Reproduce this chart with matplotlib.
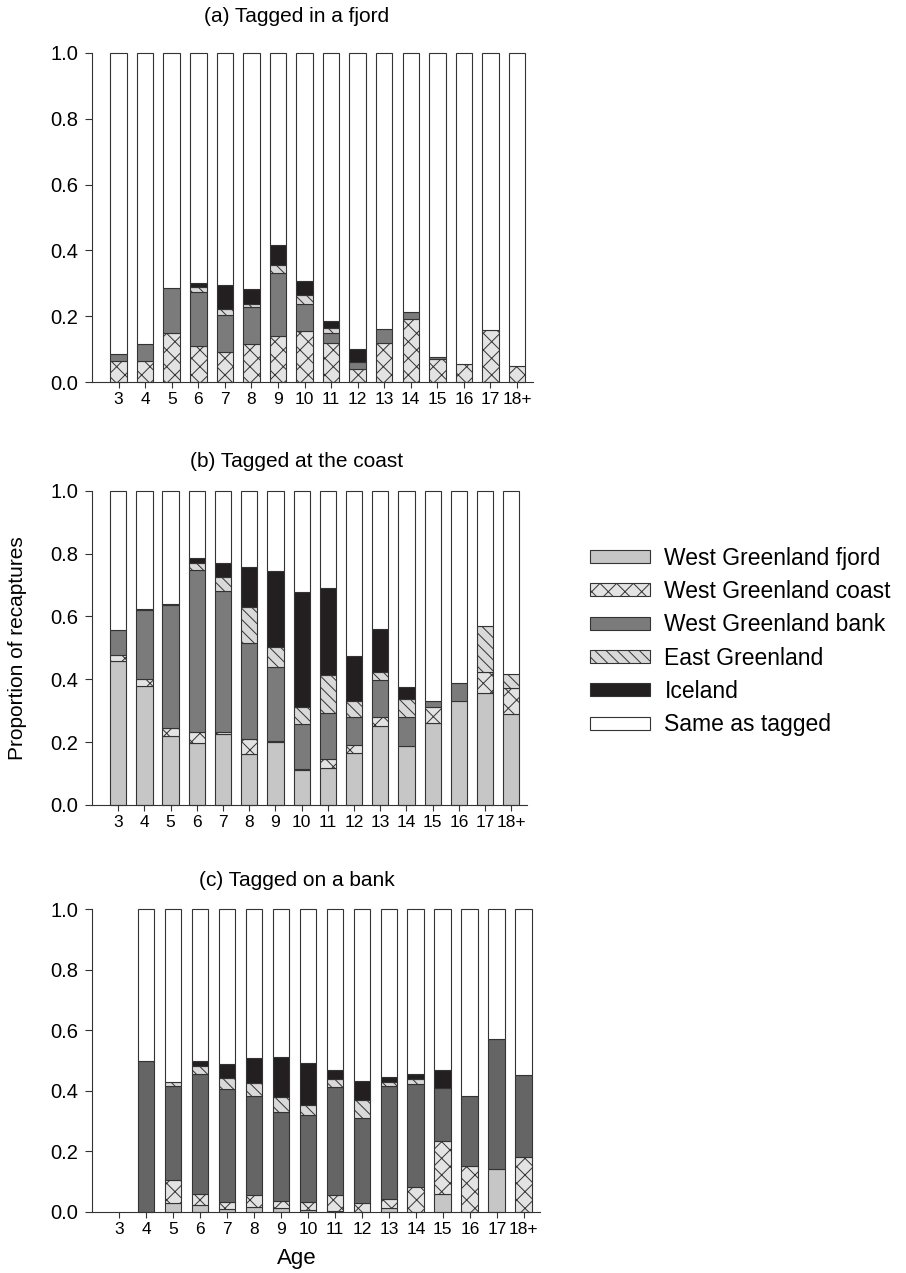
import numpy as np
import matplotlib
matplotlib.use("Agg")
import matplotlib.pyplot as plt
from matplotlib.patches import Patch

plt.rcParams["font.family"] = ["Liberation Sans", "DejaVu Sans"]
plt.rcParams["hatch.linewidth"] = 0.7

ages = ["3", "4", "5", "6", "7", "8", "9", "10", "11", "12", "13", "14", "15", "16", "17", "18+"]
areas = ["West Greenland fjord", "West Greenland coast", "West Greenland bank",
         "East Greenland", "Iceland", "Same as tagged"]

# (a) tagged in a fjord - proportion recaptured in each area
a_fjord = [0, 0, 0, 0, 0, 0, 0, 0, 0, 0, 0, 0, 0, 0, 0, 0]
a_coast = [0.065, 0.065, 0.150, 0.110, 0.090, 0.115, 0.140, 0.155, 0.120, 0.040, 0.120, 0.190, 0.070, 0.055, 0.157, 0.050]
a_bank = [0.020, 0.050, 0.137, 0.165, 0.113, 0.112, 0.192, 0.083, 0.030, 0.020, 0.040, 0.022, 0.005, 0, 0, 0]
a_east = [0, 0, 0, 0.014, 0.018, 0.011, 0.023, 0.026, 0.013, 0, 0, 0, 0, 0, 0, 0]
a_iceland = [0, 0, 0, 0.011, 0.073, 0.044, 0.060, 0.042, 0.023, 0.040, 0, 0, 0, 0, 0, 0]

# (b) tagged at the coast
b_fjord = [0.459, 0.379, 0.221, 0.198, 0.226, 0.163, 0.201, 0.111, 0.117, 0.164, 0.251, 0.188, 0.260, 0.332, 0.355, 0.288]
b_coast = [0.018, 0.021, 0.025, 0.033, 0.006, 0.046, 0.003, 0.005, 0.028, 0.026, 0.028, 0, 0.053, 0, 0.069, 0.085]
b_bank = [0.079, 0.220, 0.390, 0.517, 0.450, 0.307, 0.234, 0.142, 0.149, 0.091, 0.119, 0.093, 0.018, 0.055, 0, 0]
b_east = [0, 0, 0.002, 0.021, 0.042, 0.113, 0.065, 0.053, 0.120, 0.051, 0.026, 0.057, 0, 0, 0.145, 0.044]
b_iceland = [0, 0.004, 0, 0.016, 0.046, 0.128, 0.242, 0.367, 0.276, 0.142, 0.136, 0.037, 0, 0, 0, 0]

# (c) tagged on a bank (no recaptures at age 3)
c_fjord = [0, 0, 0.030, 0.021, 0.009, 0.017, 0.012, 0.006, 0.003, 0, 0.013, 0, 0.057, 0, 0.140, 0]
c_coast = [0, 0, 0.075, 0.037, 0.024, 0.038, 0.023, 0.027, 0.052, 0.028, 0.029, 0.083, 0.178, 0.151, 0, 0.180]
c_bank = [0, 0.498, 0.311, 0.398, 0.373, 0.326, 0.295, 0.287, 0.356, 0.282, 0.373, 0.338, 0.174, 0.232, 0.430, 0.272]
c_east = [0, 0, 0.012, 0.026, 0.036, 0.045, 0.048, 0.032, 0.029, 0.059, 0.014, 0.017, 0, 0, 0, 0]
c_iceland = [0, 0, 0, 0.016, 0.045, 0.082, 0.134, 0.140, 0.029, 0.063, 0.016, 0.018, 0.060, 0, 0, 0]
c_no_data = ["3"]

styles = [
    dict(facecolor="#c6c6c6"),
    dict(facecolor="#e3e3e3", hatch="xx"),
    dict(facecolor="#7b7b7b"),
    dict(facecolor="#d9d9d9", hatch="\\\\\\"),
    dict(facecolor="#231f20"),
    dict(facecolor="white"),
]


def draw_panel(ax, parts, title, pad, bank_color, no_data=()):
    x = np.arange(len(ages))
    parts = [np.array(p, dtype=float) for p in parts]
    same = 1 - sum(parts)
    same[[ages.index(a) for a in no_data]] = 0
    parts.append(same)
    bottom = np.zeros(len(ages))
    for i, vals in enumerate(parts):
        st = dict(styles[i])
        if i == 2:
            st["facecolor"] = bank_color
        # no outline for empty segments
        lw = np.where(vals > 0, 0.8, 0)
        ax.bar(x, vals, 0.62, bottom=bottom, edgecolor="#333333",
               linewidth=lw, clip_on=False, **st)
        bottom += vals

    ax.set_xlim(-1, 15.6)
    ax.set_ylim(0, 1)
    ax.set_xticks(x)
    ax.set_xticklabels(ages)
    ax.set_yticks(np.arange(0, 1.01, 0.2))
    ax.set_yticklabels(["%.1f" % v for v in np.arange(0, 1.01, 0.2)])
    ax.spines["top"].set_visible(False)
    ax.spines["right"].set_visible(False)
    for s in ("left", "bottom"):
        ax.spines[s].set_color("#333333")
    ax.tick_params(axis="x", labelsize=12.5, length=4, color="#333333")
    ax.tick_params(axis="y", labelsize=14.5, length=5, pad=5, color="#333333")
    # titles sit a little left of the axes centre
    w = ax.get_position().width * 906
    ax.set_title(title, fontsize=15, pad=pad, x=(297 - 92) / w)


fig = plt.figure(figsize=(9.06, 12.73), dpi=100)
W, H = 906, 1273
ax_a = fig.add_axes([92 / W, 1 - 382 / H, 441 / W, 329 / H])
ax_b = fig.add_axes([92 / W, 1 - 805 / H, 435 / W, 314.3 / H])
ax_c = fig.add_axes([92 / W, 1 - 1211.7 / H, 448 / W, 302.4 / H])

draw_panel(ax_a, [a_fjord, a_coast, a_bank, a_east, a_iceland],
           "(a) Tagged in a fjord", 22, "#7b7b7b")
draw_panel(ax_b, [b_fjord, b_coast, b_bank, b_east, b_iceland],
           "(b) Tagged at the coast", 17, "#7b7b7b")
draw_panel(ax_c, [c_fjord, c_coast, c_bank, c_east, c_iceland],
           "(c) Tagged on a bank", 17, "#656565", c_no_data)

ax_b.set_ylabel("Proportion of recaptures", fontsize=15)
ax_b.yaxis.set_label_coords(-0.15, 0.5)
ax_c.set_xlabel("Age", fontsize=16)
ax_c.xaxis.set_label_coords((297 - 92) / 448, -0.12)

handles = [Patch(edgecolor="#333333", linewidth=0.8, **st) for st in styles]
fig.legend(handles, areas, loc="center left", bbox_to_anchor=(590 / W, 1 - 641.5 / H),
           frameon=False, fontsize=16.5, handlelength=2.6, handleheight=0.5,
           handletextpad=0.65, labelspacing=0.45, borderpad=0, borderaxespad=0)

fig.savefig("out.png", dpi=100)
